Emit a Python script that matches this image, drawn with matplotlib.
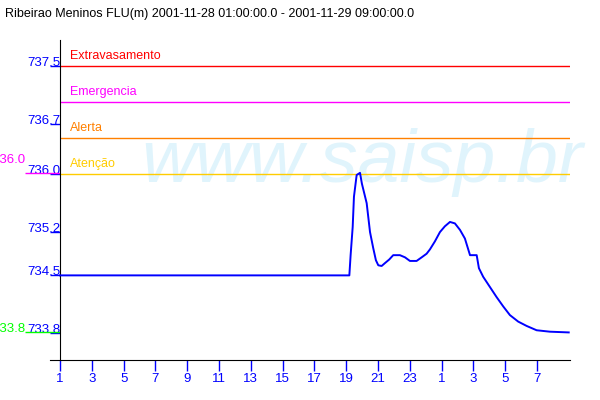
import matplotlib
matplotlib.use('Agg')
import matplotlib.pyplot as plt

plt.rcParams['font.family'] = ['Liberation Sans', 'DejaVu Sans']

title = 'Ribeirao Meninos FLU(m) 2001-11-28 01:00:00.0 - 2001-11-29 09:00:00.0'

# hours since 2001-11-28 01:00
hours = list(range(19)) + [
    18.2, 18.28, 18.41, 18.49, 18.66, 18.87, 18.99, 19.29, 19.5, 19.7,
    19.87, 20.02, 20.23, 20.44, 20.71, 20.96, 21.38, 21.7, 22.01, 22.43,
    22.75, 23.06, 23.27, 23.58, 23.9, 24.21, 24.53, 24.84, 25.16, 25.47,
    25.79, 26.21, 26.35, 26.62, 27.04, 27.46, 27.88, 28.3, 28.82, 29.35,
    29.98, 30.82, 32.0]
level = [734.6] * 19 + [
    734.6, 734.88, 735.27, 735.69, 735.99, 736.02, 735.87, 735.6, 735.2, 734.98,
    734.81, 734.74, 734.73, 734.77, 734.82, 734.88, 734.88, 734.85, 734.8, 734.8,
    734.85, 734.9, 734.96, 735.07, 735.2, 735.28, 735.34, 735.32, 735.23, 735.11,
    734.88, 734.88, 734.7, 734.58, 734.44, 734.3, 734.17, 734.05, 733.96, 733.9,
    733.84, 733.82, 733.81]

limit_names = ['Extravasamento', 'Emergencia', 'Alerta', 'Atenção']
limit_values = [737.5, 737.0, 736.5, 736.0]
limit_colors = ['#ff0000', '#ff00ff', '#ff8000', '#ffcc00']

ytick_values = [737.5, 736.7, 736.0, 735.2, 734.6, 733.8]
ytick_labels = ['737.5', '736.7', '736.0', '735.2', '734.5', '733.8']
xtick_hours = list(range(0, 31, 2))
xtick_labels = ['1', '3', '5', '7', '9', '11', '13', '15', '17', '19', '21', '23',
                '1', '3', '5', '7']

fig = plt.figure(figsize=(6, 4), dpi=100)
ax = fig.add_axes([50/600, 0.1, 520/600, 0.8])
x_end = 32.08

ax.set_xlim(-0.63, x_end)
ax.set_ylim(733.428, 737.86)

# watermark
ax.text(362/600, 1 - 182/400, 'www.saisp.br', transform=fig.transFigure,
        fontsize=54, style='italic', color='#e0f4fc', ha='center',
        va='baseline', zorder=0, clip_on=False)

ax.hlines(limit_values, 0, x_end, colors=limit_colors, lw=1, zorder=1)
for name, val, col in zip(limit_names, limit_values, limit_colors):
    ax.annotate(name, (0.63, val), xytext=(0, 3), textcoords='offset points',
                color=col, fontsize=9, va='bottom')

ax.plot(hours, level, color='#0000ff', lw=1.4, zorder=3)

# max / min markers
vmax = max(level)
vmin = min(level)
ax.hlines([vmax], -2.2, 0, colors='#ff00ff', lw=1, clip_on=False)
ax.hlines([vmin], -2.2, 0, colors='#00ff00', lw=1, clip_on=False)
ax.annotate(f'{vmax:.1f}', (-2.2, vmax), xytext=(0, 7), textcoords='offset points',
            color='#ff00ff', fontsize=9.5, ha='right', va='baseline',
            annotation_clip=False)
ax.annotate(f'{vmin:.1f}', (-2.2, vmin), color='#00ff00', fontsize=9.5,
            ha='right', va='baseline', annotation_clip=False)

ax.spines['top'].set_visible(False)
ax.spines['right'].set_visible(False)
ax.spines['left'].set_position(('data', 0))
ax.spines['left'].set_bounds(733.428, 737.86)

ax.set_yticks(ytick_values, ytick_labels)
ax.set_xticks(xtick_hours, xtick_labels)
ax.tick_params(axis='y', colors='#0000ff', direction='out', length=7.2,
               width=1, pad=-7.2, labelsize=9.5)
ax.tick_params(axis='x', colors='#0000ff', direction='out', length=8,
               width=1, pad=1.5, labelsize=9.5)
for t in ax.get_yticklabels():
    t.set_va('baseline')

fig.text(5/600, 1 - 17/400, title, fontsize=9, va='baseline')

fig.savefig('out.png', dpi=100)
